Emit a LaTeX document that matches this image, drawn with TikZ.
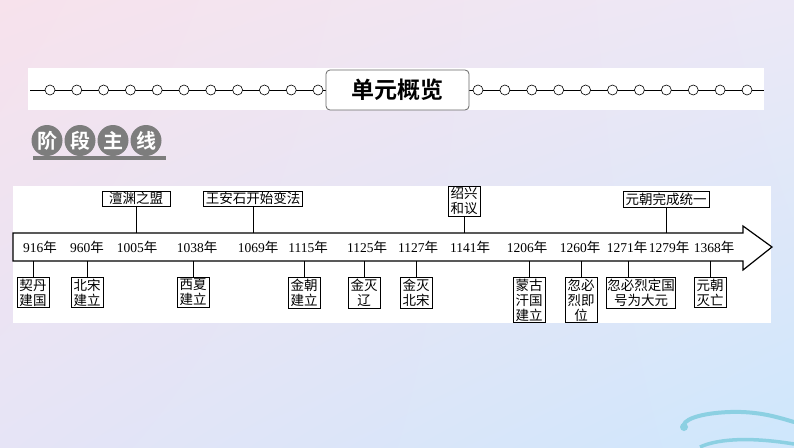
\documentclass[tikz,border=0pt]{standalone}
\usepackage{fontspec}
\usetikzlibrary{shadings}
\newfontfamily\cjk[BoldFont={Noto Sans CJK SC Bold}]{Noto Sans CJK SC}
\newfontfamily\numf{Liberation Serif}
\definecolor{bgTL}{RGB}{247,226,236}
\definecolor{bgTR}{RGB}{236,232,246}
\definecolor{bgBL}{RGB}{230,228,246}
\definecolor{bgBR}{RGB}{206,231,252}
\definecolor{badge}{RGB}{125,125,125}
\definecolor{wave}{RGB}{140,208,226}
\tikzset{
  evbox/.style={draw=black,line width=0.9pt,fill=white,inner xsep=2.5pt,inner ysep=1.5pt,align=center,font=\cjk\fontsize{13.5}{15}\selectfont},
  yr/.style={font=\fontsize{13.5}{15}\selectfont,inner sep=0pt},
  stem/.style={line width=0.9pt},
  ring/.style={draw=black,line width=0.6pt,fill=white,circle,minimum size=10pt,inner sep=0pt},
  bdg/.style={circle,fill=badge,minimum size=31pt,inner sep=0pt,text=white,font=\cjk\bfseries\fontsize{20}{20}\selectfont}
}
\newcommand{\yrt}[1]{{\numf #1}{\cjk 年}}
\begin{document}
\begin{tikzpicture}[x=1pt,y=-1pt]
\useasboundingbox (0,0) rectangle (794,447);
\shade[upper left=bgTL,upper right=bgTR,lower left=bgBL,lower right=bgBR] (0,0) rectangle (794,447);
% wave decoration
\draw[wave,line width=4pt,line cap=round] (684,428) .. controls (680,420) and (700,413) .. (730,412) .. controls (760,411) and (780,418) .. (794,422);
\fill[wave] (684,427) circle (4pt);
\draw[wave,line width=3.5pt] (700,447) .. controls (715,440) and (745,436) .. (794,444);
% header band
\fill[white] (28,68) rectangle (764,110);
\draw[line width=0.6pt] (30,90) -- (764,90);
\foreach \i in {0,...,10} {\node[ring] (lc\i) at (50+26.8*\i,90) {};}
\foreach \i in {0,...,10} {\node[ring] (rc\i) at (478+26.9*\i,90) {};}
\node[draw=gray!80!black,line width=0.8pt,fill=white,rounded corners=4pt,minimum width=143pt,minimum height=40pt,inner sep=0pt,font=\cjk\bfseries\fontsize{23}{23}\selectfont] (title) at (397.5,90) {单元概览};
% badge
\fill[badge] (33,156) rectangle (166,159.5);
\node[bdg] (g1) at (47,140.5) {阶};
\node[bdg] (g2) at (80,140.5) {段};
\node[bdg] (g3) at (113,140.5) {主};
\node[bdg] (g4) at (146,140.5) {线};
% timeline panel
\fill[white] (13,186) rectangle (771,323);
\draw[line width=1.2pt,fill=white,line join=miter] (13,233) -- (743,233) -- (743,226) -- (772,247) -- (743,270) -- (743,261) -- (13,261) -- cycle;
\coordinate (atop) at (0,233);
\coordinate (abot) at (0,261);
% years
\node[yr] (y916) at (40,247) {\yrt{916}};
\node[yr] (y960) at (87,247) {\yrt{960}};
\node[yr] (y1005) at (137,247) {\yrt{1005}};
\node[yr] (y1038) at (197,247) {\yrt{1038}};
\node[yr] (y1069) at (258,247) {\yrt{1069}};
\node[yr] (y1115) at (308,247) {\yrt{1115}};
\node[yr] (y1125) at (367,247) {\yrt{1125}};
\node[yr] (y1127) at (418,247) {\yrt{1127}};
\node[yr] (y1141) at (470,247) {\yrt{1141}};
\node[yr] (y1206) at (527,247) {\yrt{1206}};
\node[yr] (y1260) at (580,247) {\yrt{1260}};
\node[yr] (y1271) at (627,247) {\yrt{1271}};
\node[yr] (y1279) at (669,247) {\yrt{1279}};
\node[yr] (y1368) at (714,247) {\yrt{1368}};
% top events
\node[evbox,anchor=south,minimum width=68pt] (t1) at (136,207) {澶渊之盟};
\node[evbox,anchor=south] (t2) at (253,207) {王安石开始变法};
\node[evbox,anchor=south] (t3) at (464,217) {绍兴\\和议};
\node[evbox,anchor=south] (t4) at (666,208) {元朝完成统一};
\foreach \n in {t1,t2,t3,t4} {\draw[stem] (\n.south) -- (\n.south |- atop);}
% bottom events
\node[evbox,anchor=north] (b1) at (33,277) {契丹\\建国};
\node[evbox,anchor=north] (b2) at (87,277) {北宋\\建立};
\node[evbox,anchor=north] (b3) at (193,277) {西夏\\建立};
\node[evbox,anchor=north] (b4) at (304,277) {金朝\\建立};
\node[evbox,anchor=north] (b5) at (364,277) {金灭\\辽};
\node[evbox,anchor=north] (b6) at (416,277) {金灭\\北宋};
\node[evbox,anchor=north] (b7) at (529,277) {蒙古\\汗国\\建立};
\node[evbox,anchor=north] (b8) at (581,277) {忽必\\烈即\\位};
\node[evbox,anchor=north,inner xsep=1pt] (b9) at (641,277) {忽必烈定国\\号为大元};
\node[evbox,anchor=north] (b10) at (710,277) {元朝\\灭亡};
\foreach \n in {b1,b2,b3,b4,b5,b6,b7,b8,b10} {\draw[stem] (\n.north) -- (\n.north |- abot);}
\coordinate (s9) at (628,277);
\draw[stem] (s9) -- (s9 |- abot);
\end{tikzpicture}
\end{document}
